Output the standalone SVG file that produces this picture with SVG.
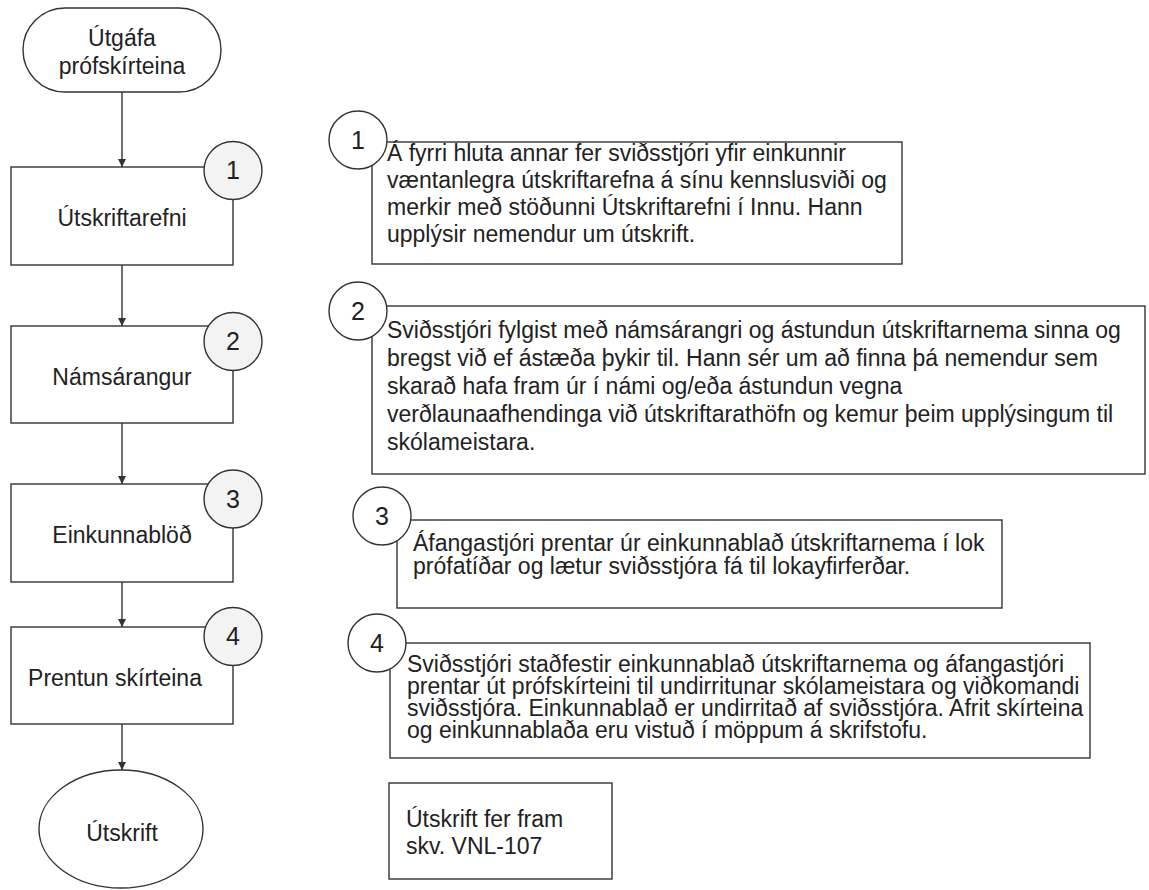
<svg xmlns="http://www.w3.org/2000/svg" width="1149" height="890" viewBox="0 0 1149 890">
<style>
.s{fill:#fff;stroke:#333;stroke-width:1.4}
.c{fill:#f3f3f3;stroke:#333;stroke-width:1.4}
.t{font-family:"Liberation Sans",Arial,sans-serif;font-size:23px;fill:#222}
.m{text-anchor:middle}
.n{font-family:"Liberation Sans",Arial,sans-serif;font-size:25px;fill:#222;text-anchor:middle}
.e{fill:none;stroke:#333;stroke-width:1.4}
</style>
<defs>
<marker id="a" markerWidth="8" markerHeight="8" refX="8" refY="4" orient="auto" markerUnits="userSpaceOnUse">
<path d="M0,0 L8,4 L0,8 z" fill="#333"/>
</marker>
</defs>
<rect width="1149" height="890" fill="#fff"/>
<g id="connectors">
<line class="e" x1="122" y1="92" x2="122" y2="167" marker-end="url(#a)"/>
<line class="e" x1="122" y1="265" x2="122" y2="326" marker-end="url(#a)"/>
<line class="e" x1="122" y1="423" x2="122" y2="484" marker-end="url(#a)"/>
<line class="e" x1="122" y1="582" x2="122" y2="627" marker-end="url(#a)"/>
<line class="e" x1="122" y1="724" x2="122" y2="770" marker-end="url(#a)"/>
</g>
<g id="start">
<rect class="s" x="23" y="8" width="198" height="84" rx="42" ry="42"/>
<text class="t m" x="122" y="46">Útgáfa</text>
<text class="t m" x="122" y="74">prófskírteina</text>
</g>
<g id="step1">
<rect class="s" x="11" y="167" width="222" height="98"/>
<circle class="c" cx="233" cy="170.5" r="29"/>
<text class="n" x="233" y="179">1</text>
<text class="t m" x="122" y="226">Útskriftarefni</text>
</g>
<g id="step2">
<rect class="s" x="11" y="326" width="222" height="97"/>
<circle class="c" cx="233" cy="341.5" r="29"/>
<text class="n" x="233" y="350">2</text>
<text class="t m" x="122" y="385">Námsárangur</text>
</g>
<g id="step3">
<rect class="s" x="11" y="484" width="222" height="98"/>
<circle class="c" cx="233" cy="499" r="29"/>
<text class="n" x="233" y="508">3</text>
<text class="t m" x="122" y="543">Einkunnablöð</text>
</g>
<g id="step4">
<rect class="s" x="11" y="627" width="222" height="97"/>
<circle class="c" cx="233" cy="636.5" r="29"/>
<text class="n" x="233" y="645">4</text>
<text class="t m" x="115" y="686">Prentun skírteina</text>
</g>
<g id="end">
<ellipse class="s" cx="121" cy="829" rx="82" ry="59"/>
<text class="t m" x="122" y="841">Útskrift</text>
</g>
<g id="note1">
<rect class="s" x="372" y="142" width="530" height="122"/>
<circle class="s" cx="358" cy="140" r="29"/>
<text class="n" x="358" y="149">1</text>
<text class="t" x="387" y="161">Á fyrri hluta annar fer sviðsstjóri yfir einkunnir</text>
<text class="t" x="387" y="188">væntanlegra útskriftarefna á sínu kennslusviði og</text>
<text class="t" x="387" y="215">merkir með stöðunni Útskriftarefni í Innu. Hann</text>
<text class="t" x="387" y="242">upplýsir nemendur um útskrift.</text>
</g>
<g id="note2">
<rect class="s" x="372" y="306" width="773" height="168"/>
<circle class="s" cx="358" cy="311" r="29"/>
<text class="n" x="358" y="320">2</text>
<text class="t" x="387" y="338">Sviðsstjóri fylgist með námsárangri og ástundun útskriftarnema sinna og</text>
<text class="t" x="387" y="366">bregst við ef ástæða þykir til. Hann sér um að finna þá nemendur sem</text>
<text class="t" x="387" y="394">skarað hafa fram úr í námi og/eða ástundun vegna</text>
<text class="t" x="387" y="422">verðlaunaafhendinga við útskriftarathöfn og kemur þeim upplýsingum til</text>
<text class="t" x="387" y="450">skólameistara.</text>
</g>
<g id="note3">
<rect class="s" x="397" y="520" width="605" height="88"/>
<circle class="s" cx="382" cy="516" r="29"/>
<text class="n" x="382" y="525">3</text>
<text class="t" x="413" y="551">Áfangastjóri prentar úr einkunnablað útskriftarnema í lok</text>
<text class="t" x="413" y="574">prófatíðar og lætur sviðsstjóra fá til lokayfirferðar.</text>
</g>
<g id="note4">
<rect class="s" x="390" y="643" width="700" height="115"/>
<circle class="s" cx="377" cy="643" r="29"/>
<text class="n" x="377" y="652">4</text>
<text class="t" x="407" y="672">Sviðsstjóri staðfestir einkunnablað útskriftarnema og áfangastjóri</text>
<text class="t" x="407" y="694">prentar út prófskírteini til undirritunar skólameistara og viðkomandi</text>
<text class="t" x="407" y="716">sviðsstjóra. Einkunnablað er undirritað af sviðsstjóra. Afrit skírteina</text>
<text class="t" x="407" y="738">og einkunnablaða eru vistuð í möppum á skrifstofu.</text>
</g>
<g id="note5">
<rect class="s" x="389" y="783" width="223" height="96"/>
<text class="t" x="406" y="827">Útskrift fer fram</text>
<text class="t" x="406" y="854">skv. VNL-107</text>
</g>
</svg>
